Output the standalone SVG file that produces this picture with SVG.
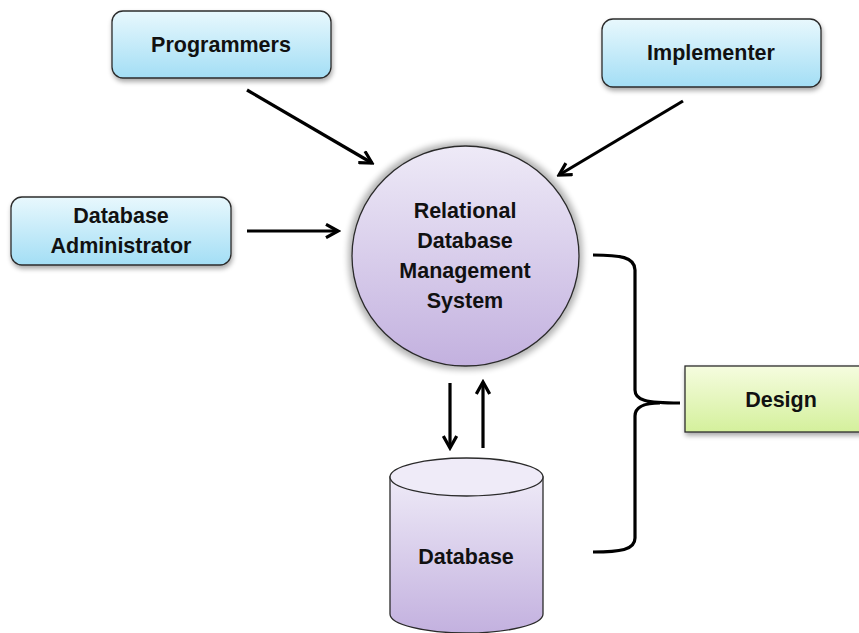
<svg xmlns="http://www.w3.org/2000/svg" width="859" height="633" viewBox="0 0 859 633">
<defs>
<style>
.lbl{font-family:"Liberation Sans",Arial,sans-serif;font-weight:bold;font-size:21.5px;fill:#111;text-anchor:middle;dominant-baseline:central}
.box{stroke:#2b2b2b;stroke-width:1.3}
.con{stroke:#000;stroke-width:3.2;fill:none}
</style>
<linearGradient id="gBlue" x1="0" y1="0" x2="0" y2="1">
<stop offset="0" stop-color="#e8f8fd"/>
<stop offset="1" stop-color="#a3def5"/>
</linearGradient>
<linearGradient id="gPurple" x1="0" y1="0" x2="0" y2="1">
<stop offset="0" stop-color="#eeeaf7"/>
<stop offset="1" stop-color="#c3b1df"/>
</linearGradient>
<linearGradient id="gGreen" x1="0" y1="0" x2="0" y2="1">
<stop offset="0" stop-color="#f5fcdf"/>
<stop offset="1" stop-color="#d4f09c"/>
</linearGradient>
<filter id="sh" x="-20%" y="-20%" width="140%" height="150%">
<feGaussianBlur in="SourceAlpha" stdDeviation="2.5"/>
<feOffset dx="1" dy="3" result="b"/>
<feComponentTransfer><feFuncA type="linear" slope="0.35"/></feComponentTransfer>
<feMerge><feMergeNode/><feMergeNode in="SourceGraphic"/></feMerge>
</filter>
<filter id="glow" x="-20%" y="-20%" width="140%" height="140%">
<feMorphology in="SourceAlpha" operator="dilate" radius="3"/>
<feGaussianBlur stdDeviation="3"/>
<feComponentTransfer><feFuncA type="linear" slope="0.3"/></feComponentTransfer>
<feMerge><feMergeNode/><feMergeNode in="SourceGraphic"/></feMerge>
</filter>
<marker id="ah" viewBox="0 0 12 12" refX="10" refY="6" markerWidth="16" markerHeight="16" markerUnits="userSpaceOnUse" orient="auto">
<path d="M1,1 L10,6 L1,11" fill="none" stroke="#000" stroke-width="2.4"/>
</marker>
</defs>
<rect width="859" height="633" fill="#fff"/>

<g id="programmers">
<rect class="box" x="112" y="11" width="219" height="67" rx="11" fill="url(#gBlue)" filter="url(#sh)"/>
<text class="lbl" x="221" y="45">Programmers</text>
</g>
<g id="implementer">
<rect class="box" x="602" y="19" width="219" height="68" rx="11" fill="url(#gBlue)" filter="url(#sh)"/>
<text class="lbl" x="711" y="53">Implementer</text>
</g>
<g id="dbadmin">
<rect class="box" x="11" y="197" width="220" height="68" rx="11" fill="url(#gBlue)" filter="url(#sh)"/>
<text class="lbl" x="121" y="216">Database</text>
<text class="lbl" x="121" y="246">Administrator</text>
</g>
<g id="rdbms">
<ellipse class="box" cx="465.5" cy="256" rx="113.5" ry="110" fill="url(#gPurple)" filter="url(#glow)"/>
<text class="lbl" x="465" y="211">Relational</text>
<text class="lbl" x="465" y="241">Database</text>
<text class="lbl" x="465" y="271">Management</text>
<text class="lbl" x="465" y="301">System</text>
</g>
<g id="database">
<path class="box" d="M390,477 L390,614 A76.5,19 0 0 0 543,614 L543,477 Z" fill="url(#gPurple)"/>
<ellipse class="box" cx="466.5" cy="477" rx="76.5" ry="19" fill="#efebf8"/>
<text class="lbl" x="466" y="557">Database</text>
</g>
<g id="design">
<rect class="box" x="685" y="366" width="180" height="66" fill="url(#gGreen)" filter="url(#sh)"/>
<text class="lbl" x="781" y="400">Design</text>
</g>

<g id="connectors">
<line class="con" x1="247" y1="90" x2="372" y2="163" marker-end="url(#ah)"/>
<line class="con" x1="683" y1="101" x2="559" y2="175" marker-end="url(#ah)"/>
<line class="con" x1="247" y1="231" x2="338" y2="231" marker-end="url(#ah)"/>
<line class="con" x1="450" y1="383" x2="450" y2="448" marker-end="url(#ah)"/>
<line class="con" x1="483" y1="448" x2="483" y2="382" marker-end="url(#ah)"/>
<path class="con" d="M593,255 C620,255 635,257 635,270 L635,390 C635,400 645,403 680,403 M635,416 C635,406 645,403 660,403 M635,416 L635,538 C635,550 620,552 593,552"/>
</g>
</svg>
